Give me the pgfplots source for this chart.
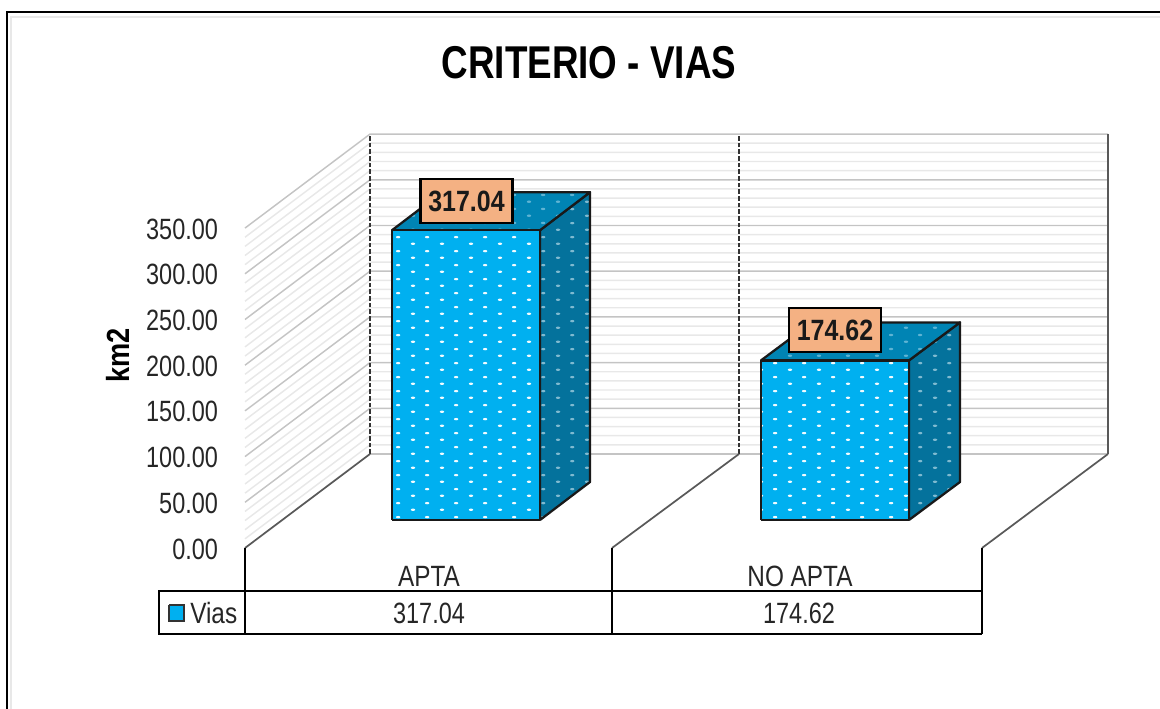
\documentclass[border=0pt]{standalone}
\usepackage{fontspec}
\setmainfont{Liberation Sans}
\newfontfamily\nar[FakeStretch=0.80]{Liberation Sans}
\newfontfamily\narc[FakeStretch=0.83]{Liberation Sans}
\newfontfamily\narb[FakeStretch=0.85]{Liberation Sans}
\newfontfamily\nart[FakeStretch=0.80]{Liberation Sans}
\usepackage{pgfplots}
\usepackage{pgfplotstable}
\pgfplotsset{compat=1.18}
\usetikzlibrary{patterns}
\definecolor{cfront}{HTML}{00B0F0}
\definecolor{ctop}{HTML}{0084B4}
\definecolor{cside}{HTML}{04729C}
\definecolor{clabel}{HTML}{F4B183}
\definecolor{cmajor}{HTML}{C4C4C4}
\definecolor{cminor}{HTML}{E8E8E8}
\definecolor{cfloor}{HTML}{595959}
\definecolor{ctext}{HTML}{262626}
\definecolor{dotF}{HTML}{F0FBFF}
\definecolor{dotT}{HTML}{5FB4D4}
\definecolor{dotS}{HTML}{7FBAD0}
\pgfdeclarepatternformonly{dotsTile}{\pgfpointorigin}{\pgfqpoint{21.75pt}{10.5pt}}{\pgfqpoint{21.75pt}{10.5pt}}{%
  \pgfpathellipse{\pgfqpoint{5.4pt}{2.6pt}}{\pgfqpoint{1.7pt}{0pt}}{\pgfqpoint{0pt}{0.95pt}}%
  \pgfpathellipse{\pgfqpoint{16.3pt}{7.9pt}}{\pgfqpoint{1.7pt}{0pt}}{\pgfqpoint{0pt}{0.95pt}}%
  \pgfusepath{fill}}
\newcommand\face[3]{%
  \addplot[fill=#1,draw=none,forget plot] table[x=x,y expr=\thisrow{v}+\thisrow{d},row sep=\\]{#3};
  \addplot[draw=none,pattern=dotsTile,pattern color=#2,forget plot] table[x=x,y expr=\thisrow{v}+\thisrow{d},row sep=\\]{#3};
  \addplot[draw=black!90,line width=1.7pt,line join=round,forget plot] table[x=x,y expr=\thisrow{v}+\thisrow{d},row sep=\\]{#3};
}
\begin{document}
\begin{tikzpicture}
\begin{axis}[
  at={(0,0)},anchor=south west,
  scale only axis,width=870pt,height=531.75pt,
  xmin=0,xmax=1160,ymin=-176.15,ymax=599.56,
  clip=false,
  axis line style={draw=none},
  major tick length=0pt,
  xtick={429,800},xticklabels={APTA,NO APTA},
  xticklabel style={anchor=center,yshift=99.8pt,font=\narc\fontsize{22}{24}\selectfont,text=ctext},
  ytick={0,50,100,150,200,250,300,350},
  yticklabel style={anchor=east,xshift=167pt,yshift=-0.7pt,font=\nar\fontsize{22}{24}\selectfont,text=ctext},
  /pgf/number format/fixed,/pgf/number format/fixed zerofill,/pgf/number format/precision=2,
  /pgf/number format/assume math mode=true,
]
% chart frame (left and top only)
\addplot[draw=cminor,line width=1.5pt,forget plot] coordinates {(10.5,-176.15)(10.5,581)(1160,581)};
\addplot[draw=black,line width=1.7pt,forget plot] coordinates {(7,-176.15)(7,586.4)(1160,586.4)};
% walls: minor gridlines
\pgfplotsinvokeforeach{10,20,30,40,60,70,80,90,110,120,130,140,160,170,180,190,210,220,230,240,260,270,280,290,310,320,330,340}{
  \draw[cminor,line width=1.1pt] (axis cs:245,#1) -- (axis cs:370,{#1+102.84}) -- (axis cs:1108,{#1+102.84});
}
% walls: major gridlines
\pgfplotsinvokeforeach{50,100,...,350}{
  \draw[cmajor,line width=1.1pt] (axis cs:245,#1) -- (axis cs:370,{#1+102.84}) -- (axis cs:1108,{#1+102.84});
}
\draw[cmajor,line width=1.4pt] (axis cs:370,102.84) -- (axis cs:1108,102.84);
% wall dividers
\addplot[draw=black!80,line width=1.2pt,dash pattern=on 3.5pt off 1.5pt,forget plot] coordinates {(370,102.84)(370,452.84)};
\addplot[draw=black!80,line width=1.2pt,dash pattern=on 3.5pt off 1.5pt,forget plot] coordinates {(739,102.84)(739,452.84)};
\addplot[draw=cfloor,line width=1.4pt,forget plot] coordinates {(1108,102.84)(1108,452.84)};
% floor
\addplot[draw=cfloor,line width=1.3pt,forget plot] coordinates {(245,0)(370,102.84)};
\addplot[draw=cfloor,line width=1.3pt,forget plot] coordinates {(612,0)(739,102.84)};
\addplot[draw=cfloor,line width=1.3pt,forget plot] coordinates {(982,0)(1108,102.84)};
% APTA bar
\face{cside}{dotS}{x v d\\ 540 0 30.63\\ 590 0 72.21\\ 590 317.04 72.21\\ 540 317.04 30.63\\ 540 0 30.63\\}
\face{ctop}{dotT}{x v d\\ 392 317.04 30.63\\ 540 317.04 30.63\\ 590 317.04 72.21\\ 442 317.04 72.21\\ 392 317.04 30.63\\}
\face{cfront}{dotF}{x v d\\ 392 0 30.63\\ 540 0 30.63\\ 540 317.04 30.63\\ 392 317.04 30.63\\ 392 0 30.63\\}
% NO APTA bar
\face{cside}{dotS}{x v d\\ 909 0 30.63\\ 960 0 72.21\\ 960 174.62 72.21\\ 909 174.62 30.63\\ 909 0 30.63\\}
\face{ctop}{dotT}{x v d\\ 761 174.62 30.63\\ 909 174.62 30.63\\ 960 174.62 72.21\\ 812 174.62 72.21\\ 761 174.62 30.63\\}
\face{cfront}{dotF}{x v d\\ 761 0 30.63\\ 909 0 30.63\\ 909 174.62 30.63\\ 761 174.62 30.63\\ 761 0 30.63\\}
% data table
\addplot[draw=black,line width=2.2pt,forget plot] coordinates {(245,0)(245,-94.1)};
\addplot[draw=black,line width=2.2pt,forget plot] coordinates {(612,0)(612,-94.1)};
\addplot[draw=black,line width=2.2pt,forget plot] coordinates {(982,0)(982,-94.1)};
\addplot[draw=black,line width=2.2pt,line join=miter,forget plot] coordinates {(982,-47.05)(159,-47.05)(159,-94.1)(982,-94.1)};
% legend key
\addplot[fill=cfront,draw=black!80,line width=1.1pt,forget plot] coordinates {(169,-62.4)(184,-62.4)(184,-79.8)(169,-79.8)(169,-62.4)};
\node[font=\narc\fontsize{22}{24}\selectfont,text=ctext,anchor=west,inner sep=0pt] at (axis cs:190,-71.1) {Vias};
\node[font=\nar\fontsize{22}{24}\selectfont,text=ctext] at (axis cs:429,-71.1) {317.04};
\node[font=\nar\fontsize{22}{24}\selectfont,text=ctext] at (axis cs:799,-71.1) {174.62};
% data labels
\node[fill=clabel,draw=black,line width=1.7pt,minimum width=69pt,minimum height=33pt,inner sep=0pt,font=\narb\bfseries\fontsize{22}{24}\selectfont,text=black!90] at (axis cs:466.5,379.6) {317.04};
\node[fill=clabel,draw=black,line width=1.7pt,minimum width=69pt,minimum height=33pt,inner sep=0pt,font=\narb\bfseries\fontsize{22}{24}\selectfont,text=black!90] at (axis cs:835,238.5) {174.62};
% axis title and label
\node[font=\nart\bfseries\fontsize{34.5}{38}\selectfont,text=black] at (axis cs:589,531) {CRITERIO - VIAS};
\node[font=\narb\bfseries\fontsize{24}{26}\selectfont,text=black,rotate=90] at (axis cs:118,211) {km2};
\end{axis}
\pgfresetboundingbox
\path (0,0) rectangle (870pt,531.75pt);
\end{tikzpicture}
\end{document}
